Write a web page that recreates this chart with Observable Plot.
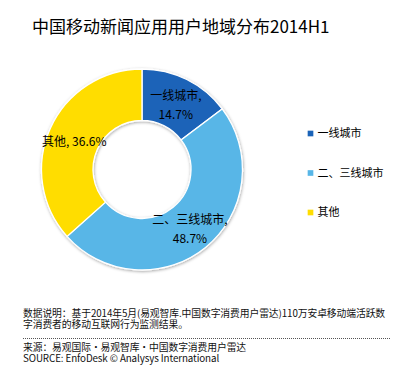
<!DOCTYPE html>
<html><head><meta charset="utf-8">
<script src="https://cdn.jsdelivr.net/npm/d3@7"></script>
<script src="https://cdn.jsdelivr.net/npm/@observablehq/plot@0.6"></script>
<style>
body{margin:0;background:#fff;}
#wrap{position:relative;width:411px;height:375px;overflow:hidden;font-family:"Noto Sans CJK SC","Noto Sans",sans-serif;color:#000;}
#chart{position:absolute;left:0;top:0;}
#title{position:absolute;left:32px;top:13.5px;font-size:17px;line-height:24px;white-space:nowrap;}
.note{position:absolute;left:23px;font-size:9.8px;line-height:11px;white-space:nowrap;color:#111;letter-spacing:-0.1px;}
#rule{position:absolute;left:23px;top:338px;width:367px;border-top:1px dotted #555;}
</style></head><body>
<div id="wrap">
  <div id="chart"></div>
  <div id="title"></div>
  <div class="note" id="note1" style="top:308px"></div>
  <div id="rule"></div>
  <div class="note" id="note2" style="top:342px"></div>
</div>
<script>
// ---- data ----
const titleText = "中国移动新闻应用用户地域分布2014H1";
const categories = ["一线城市", "二、三线城市", "其他"];
const shares = [14.7, 48.7, 36.6];
const labelWrap = [true, true, false];
const palette = ["#1B63B8", "#58B6E7", "#FFDD00"];
const noteLines = [
  "数据说明：基于2014年5月(易观智库.中国数字消费用户雷达)110万安卓移动端活跃数",
  "字消费者的移动互联网行为监测结果。"
];
const sourceLines = [
  "来源：易观国际·易观智库·中国数字消费用户雷达",
  "SOURCE: EnfoDesk © Analysys International"
];

// ---- layout ----
const W = 411, H = 375;
const CX = 142, CY = 169.5, R_OUT = 100.5, R_IN = 49;
const LEG_X = 310, LEG_Y0 = 133, LEG_DY = 39.5;

const rows = categories.map((category, i) => ({category, share: shares[i], wrap: labelWrap[i]}));
const arcs = d3.pie().sort(null).value(d => d.share)(rows);
const arcGen = d3.arc().innerRadius(R_IN).outerRadius(R_OUT);
const labels = arcs.map(a => {
  const c = arcGen.centroid(a);
  return {
    x: CX + c[0], y: CY + c[1],
    text: `${a.data.category},${a.data.wrap ? "\n" : " "}${a.data.share.toFixed(1)}%`
  };
});

const ring = (index, scales) => {
  const cx = scales.x(CX), cy = scales.y(CY);
  const g = d3.create("svg:g");
  const f = g.append("defs").append("filter").attr("id", "ringShadow")
    .attr("x", "-20%").attr("y", "-20%").attr("width", "140%").attr("height", "140%");
  f.append("feDropShadow").attr("dx", 0.5).attr("dy", 1).attr("stdDeviation", 1.8)
    .attr("flood-color", "#000").attr("flood-opacity", 0.35);
  g.append("g").attr("transform", `translate(${cx},${cy})`).attr("filter", "url(#ringShadow)")
    .selectAll("path").data(arcs).join("path")
    .attr("d", arcGen)
    .attr("fill", d => scales.color(d.data.category))
    .attr("stroke", "#fff").attr("stroke-width", 1.3);
  return g.node();
};

const chart = Plot.plot({
  width: W, height: H, margin: 0,
  style: {fontFamily: '"Noto Sans CJK SC","Noto Sans",sans-serif', background: "transparent", color: "#000"},
  x: {domain: [0, W], range: [0, W], axis: null},
  y: {domain: [0, H], range: [0, H], axis: null},
  color: {domain: categories, range: palette},
  marks: [
    ring,
    Plot.text(labels, {x: "x", y: "y", text: "text", fontSize: 12, lineHeight: 1.58, textAnchor: "middle", fill: "#000"}),
    Plot.dot(categories, {x: LEG_X, y: (d, i) => LEG_Y0 + i * LEG_DY, symbol: "square", r: 3.2, fill: d => d, stroke: null}),
    Plot.text(categories, {x: LEG_X + 7, y: (d, i) => LEG_Y0 + i * LEG_DY, text: d => d, fontSize: 11, textAnchor: "start", fill: "#000"})
  ]
});
document.getElementById("chart").append(chart);
document.getElementById("title").textContent = titleText;
document.getElementById("note1").innerHTML = noteLines.join("<br>");
document.getElementById("note2").innerHTML = sourceLines.join("<br>");
</script>
</body></html>
